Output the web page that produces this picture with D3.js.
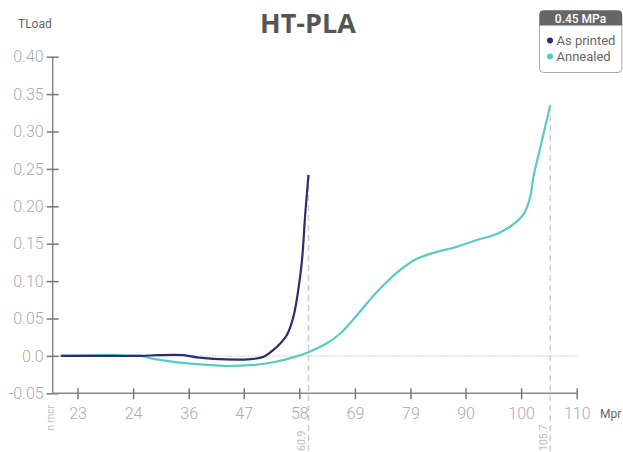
<!DOCTYPE html>
<html>
<head>
<meta charset="utf-8">
<script src="https://cdn.jsdelivr.net/npm/d3@7"></script>
<style>
  html, body { margin: 0; padding: 0; background: #fff; }
  svg { display: block; }
</style>
</head>
<body>
<div id="chart"></div>
<script>
// HT-PLA deflection curves
const asPrinted = [
  [15.0, 0.000], [22.0, 0.000], [29.7, 0.000], [33.0, 0.001], [37.7, 0.001],
  [40.2, -0.002], [43.3, -0.004], [48.2, -0.005], [50.7, -0.004], [52.6, -0.001],
  [54.4, 0.008], [55.7, 0.017], [56.9, 0.028], [58.1, 0.052], [59.0, 0.088],
  [59.7, 0.128], [60.3, 0.190], [60.9, 0.242]
];
const annealed = [
  [15.0, 0.000], [29.7, 0.000], [32.2, -0.004], [35.9, -0.008], [42.1, -0.012],
  [45.8, -0.0135], [50.7, -0.012], [54.4, -0.0085], [58.1, -0.002], [60.9, 0.005],
  [64.3, 0.017], [66.8, 0.030], [69.0, 0.047], [73.9, 0.088], [77.9, 0.115],
  [81.0, 0.130], [84.7, 0.139], [88.4, 0.146], [92.1, 0.155], [95.8, 0.163],
  [98.3, 0.173], [100.8, 0.190], [102.0, 0.213], [102.6, 0.240], [103.9, 0.280],
  [105.7, 0.335]
];
const markers = [60.9, 105.7];
const markerTops = [0.242, 0.335];

const xDomain = [13.5, 110.6];
const xTickValues = [18.1, 28.4, 38.7, 48.9, 59.2, 69.5, 79.8, 90.0, 100.3, 110.6];
const xTickLabels = ['23', '24', '36', '47', '58', '69', '79', '90', '100', '110'];
const yTickValues = [0.40, 0.35, 0.30, 0.25, 0.20, 0.15, 0.10, 0.05, 0.0, -0.05];
const yTickLabels = ['0.40', '0.35', '0.30', '0.25', '0.20', '0.15', '0.10', '0.05', '0.0', '-0.05'];

const seriesNames = ['As printed', 'Annealed'];
const colors = ['#2e2b70', '#5cc9c5'];

const W = 623, H = 452;
const svg = d3.select('#chart').append('svg')
  .attr('width', W).attr('height', H)
  .style('font-family', 'Roboto, sans-serif');

const x = d3.scaleLinear().domain(xDomain).range([52.7, 576.7]);
const y = d3.scaleLinear().domain([-0.05, 0.40]).range([393.3, 56.7]);

// title
svg.append('text')
  .attr('x', 308).attr('y', 33)
  .attr('text-anchor', 'middle')
  .style('font-family', '"Open Sans", sans-serif')
  .style('font-weight', 700)
  .style('font-size', '27px')
  .attr('fill', '#555')
  .text('HT-PLA');

svg.append('text')
  .attr('x', 18).attr('y', 28)
  .style('font-size', '12px')
  .attr('fill', '#666')
  .text('TLoad');

// zero line
svg.append('line')
  .attr('x1', x(xDomain[0])).attr('x2', x(xDomain[1]))
  .attr('y1', y(0)).attr('y2', y(0))
  .attr('stroke', '#ddd').attr('stroke-width', 1.5)
  .attr('stroke-dasharray', '2,1');

// marker lines
markers.forEach((m, i) => {
  svg.append('line')
    .attr('x1', x(m)).attr('x2', x(m))
    .attr('y1', y(markerTops[i])).attr('y2', H)
    .attr('stroke', '#ccc').attr('stroke-width', 1.5)
    .attr('stroke-dasharray', '6,4');
  svg.append('text')
    .attr('transform', `translate(${x(m) - 3},${H - 1}) rotate(-90)`)
    .attr('text-anchor', 'start')
    .style('font-size', '10.5px')
    .attr('fill', '#bbb')
    .text(m);
});

// axes
const yAxis = svg.append('g')
  .attr('transform', `translate(${x(xDomain[0])},0)`)
  .call(d3.axisLeft(y).tickValues(yTickValues)
    .tickFormat((d, i) => yTickLabels[i]).tickSize(6).tickPadding(3));
yAxis.selectAll('.tick line').attr('x1', -6).attr('x2', 6);

const xAxis = svg.append('g')
  .attr('transform', `translate(0,${y(-0.05)})`)
  .call(d3.axisBottom(x).tickValues(xTickValues)
    .tickFormat((d, i) => xTickLabels[i]).tickSize(6).tickPadding(8));
xAxis.selectAll('.tick line').attr('y1', -5).attr('y2', 6);

[yAxis, xAxis].forEach(g => {
  g.select('.domain').attr('stroke', '#888').attr('stroke-width', 1.5);
  g.selectAll('.tick line').attr('stroke', '#777').attr('stroke-width', 1.5);
  g.selectAll('.tick text')
    .attr('fill', '#aaa')
    .style('font-family', 'Roboto, sans-serif')
    .style('font-weight', 300)
    .style('font-size', '16px');
});
yAxis.select('.domain').attr('d', `M0,${y(0.40)}V${y(-0.05)}`);
xAxis.select('.domain').attr('d', `M${x(xDomain[0])},0H${x(xDomain[1])}`);

svg.append('text')
  .attr('x', 600).attr('y', 418)
  .style('font-size', '12px')
  .attr('fill', '#666')
  .text('Mpr');

svg.append('text')
  .attr('transform', 'translate(54,405) rotate(-90)')
  .attr('text-anchor', 'end')
  .style('font-size', '10px')
  .attr('fill', '#bbb')
  .text('n mcr');

// curves
const line = d3.line()
  .x(d => x(d[0]))
  .y(d => y(d[1]))
  .curve(d3.curveCatmullRom.alpha(0.5));

[annealed, asPrinted].forEach((data, i) => {
  svg.append('path')
    .datum(data)
    .attr('fill', 'none')
    .attr('stroke', i === 0 ? colors[1] : colors[0])
    .attr('stroke-width', 2.2)
    .attr('stroke-linejoin', 'round')
    .attr('d', line);
});

// legend
const lg = svg.append('g').attr('transform', 'translate(539.5,10.5)');
lg.append('rect')
  .attr('width', 82.5).attr('height', 62).attr('rx', 4)
  .attr('fill', '#fff').attr('stroke', '#aaa');
lg.append('path')
  .attr('d', 'M0,15V4A4,4 0 0 1 4,0H78.5A4,4 0 0 1 82.5,4V15Z')
  .attr('fill', '#666');
lg.append('text')
  .attr('x', 41).attr('y', 12)
  .attr('text-anchor', 'middle')
  .style('font-size', '12px')
  .style('font-weight', 500)
  .attr('fill', '#fff')
  .text('0.45 MPa');
seriesNames.forEach((name, i) => {
  lg.append('circle')
    .attr('cx', 10.5).attr('cy', 30 + i * 16).attr('r', 3)
    .attr('fill', colors[i]);
  lg.append('text')
    .attr('x', 17).attr('y', 34.5 + i * 16)
    .style('font-size', '13px')
    .attr('fill', '#666')
    .text(name);
});
</script>
</body>
</html>
